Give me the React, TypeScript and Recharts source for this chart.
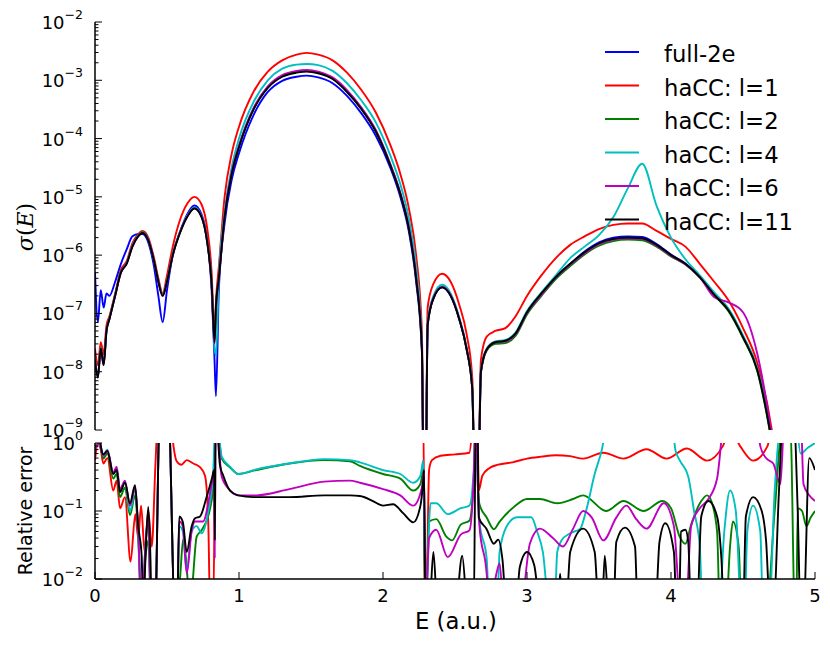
import React from 'react';
import { LineChart, Line, XAxis, YAxis } from 'recharts';

// ---- cross section panel: energy grid (a.u.) and sigma(E) per calculation ----
const ENERGY = [
  0, 0.02, 0.04, 0.06, 0.08, 0.1, 0.14, 0.18, 0.22, 0.26,
  0.3, 0.33, 0.37, 0.41, 0.44, 0.47, 0.5, 0.54, 0.59, 0.64,
  0.69, 0.74, 0.78, 0.81, 0.83, 0.84, 0.86, 0.9, 0.95, 1.0,
  1.1, 1.2, 1.3, 1.4, 1.47, 1.55, 1.65, 1.75, 1.85, 1.95,
  2.05, 2.12, 2.18, 2.23, 2.27, 2.29, 2.31, 2.35, 2.41, 2.47,
  2.53, 2.58, 2.62, 2.65, 2.68, 2.72, 2.78, 2.85, 2.92, 3.0,
  3.1, 3.2, 3.3, 3.4, 3.5, 3.6, 3.7, 3.8, 3.9, 4.0,
  4.1, 4.2, 4.3, 4.4, 4.5, 4.6, 4.7, 4.75,
];

const SIGMA_FULL_2E = [
  5.0e-7, 7.1e-8, 2.5e-7, 1.26e-7, 2.2e-7, 2.0e-7, 3.5e-7, 7.1e-7, 1.26e-6, 2.1e-6,
  2.3e-6, 2.3e-6, 1.66e-6, 6.3e-7, 2.0e-7, 7.1e-8, 2.5e-7, 1.0e-6, 2.5e-6, 5.0e-6,
  7.1e-6, 5.0e-6, 1.8e-6, 2.5e-7, 1.6e-8, 3.8e-9, 2.5e-7, 3.5e-6, 2.0e-5, 5.6e-5,
  2.5e-4, 6.3e-4, 9.8e-4, 1.15e-3, 1.2e-3, 1.12e-3, 8.9e-4, 5.4e-4, 2.7e-4, 1.12e-4,
  3.2e-5, 1.0e-5, 2.5e-6, 3.5e-7, 2.2e-8, 1e-12, 6.3e-8, 1.8e-7, 2.8e-7, 2.0e-7,
  7.9e-8, 2.5e-8, 5.0e-9, 1e-12, 1.0e-8, 2.4e-8, 3.2e-8, 3.4e-8, 4.5e-8, 1.05e-7,
  2.2e-7, 4.2e-7, 7.1e-7, 1.15e-6, 1.65e-6, 2.0e-6, 2.1e-6, 2.05e-6, 1.55e-6, 1.02e-6,
  7.2e-7, 4.3e-7, 2.1e-7, 1.15e-7, 4.0e-8, 1.1e-8, 6.5e-10, 1e-10,
];

const SIGMA_L1 = [
  2.5e-8, 1.3e-8, 3.2e-8, 2.0e-8, 6.3e-8, 8.9e-8, 2.2e-7, 5.6e-7, 7.9e-7, 1.6e-6,
  2.3e-6, 2.6e-6, 2.0e-6, 8.9e-7, 4.0e-7, 2.2e-7, 4.5e-7, 1.4e-6, 4.0e-6, 7.6e-6,
  1.0e-5, 7.4e-6, 2.8e-6, 5.0e-7, 4.0e-8, 1.6e-7, 6.3e-7, 1.0e-5, 5.6e-5, 1.6e-4,
  6.3e-4, 1.41e-3, 2.2e-3, 2.75e-3, 2.95e-3, 2.75e-3, 2.2e-3, 1.35e-3, 6.8e-4, 2.8e-4,
  7.9e-5, 2.5e-5, 6.3e-6, 1.0e-6, 5.0e-8, 1e-12, 1.26e-7, 3.2e-7, 4.8e-7, 3.5e-7,
  1.4e-7, 4.5e-8, 7.9e-9, 1e-12, 1.6e-8, 4.0e-8, 5.0e-8, 5.6e-8, 8.9e-8, 2.0e-7,
  4.5e-7, 8.9e-7, 1.5e-6, 2.1e-6, 2.8e-6, 3.3e-6, 3.5e-6, 3.5e-6, 2.6e-6, 1.9e-6,
  1.4e-6, 7.1e-7, 3.5e-7, 1.66e-7, 5.6e-8, 1.4e-8, 1.0e-9, 1e-10,
];

const SIGMA_L2 = [
  1.8e-8, 8.5e-9, 2.6e-8, 1.4e-8, 5.2e-8, 8.2e-8, 2.1e-7, 5.2e-7, 7.4e-7, 1.45e-6,
  2.2e-6, 2.5e-6, 1.85e-6, 8.1e-7, 3.6e-7, 2.1e-7, 3.6e-7, 1.02e-6, 2.45e-6, 4.6e-6,
  6.4e-6, 4.6e-6, 1.65e-6, 3.3e-7, 3.4e-8, 1.35e-7, 4.1e-7, 4.6e-6, 2.6e-5, 7.3e-5,
  3.2e-4, 7.6e-4, 1.18e-3, 1.38e-3, 1.44e-3, 1.35e-3, 1.07e-3, 6.5e-4, 3.3e-4, 1.35e-4,
  3.6e-5, 1.15e-5, 2.9e-6, 4.1e-7, 2.6e-8, 1e-12, 6.4e-8, 1.85e-7, 2.85e-7, 2.05e-7,
  8.0e-8, 2.5e-8, 5.0e-9, 1e-12, 9.5e-9, 2.3e-8, 3.0e-8, 3.1e-8, 4.1e-8, 9.6e-8,
  2.0e-7, 3.9e-7, 6.5e-7, 1.03e-6, 1.45e-6, 1.75e-6, 1.85e-6, 1.8e-6, 1.4e-6, 9.5e-7,
  6.9e-7, 4.1e-7, 2.05e-7, 1.08e-7, 3.8e-8, 1.0e-8, 6.0e-10, 1e-10,
];

const SIGMA_L4 = [
  1.7e-8, 8.2e-9, 2.6e-8, 1.35e-8, 5.1e-8, 8.1e-8, 2.05e-7, 5.1e-7, 7.3e-7, 1.45e-6,
  2.15e-6, 2.45e-6, 1.85e-6, 8.0e-7, 3.6e-7, 2.05e-7, 3.6e-7, 1.05e-6, 2.5e-6, 4.7e-6,
  6.6e-6, 4.7e-6, 1.7e-6, 3.2e-7, 2.5e-8, 1.9e-8, 4.2e-7, 5.5e-6, 3.3e-5, 1.0e-4,
  4.2e-4, 1.0e-3, 1.58e-3, 1.86e-3, 1.9e-3, 1.82e-3, 1.45e-3, 8.9e-4, 4.5e-4, 1.9e-4,
  5.2e-5, 1.66e-5, 4.2e-6, 6.3e-7, 3.2e-8, 1e-12, 7.0e-8, 2.0e-7, 3.1e-7, 2.2e-7,
  8.5e-8, 2.7e-8, 5.5e-9, 1e-12, 1.05e-8, 2.5e-8, 3.3e-8, 3.5e-8, 4.7e-8, 1.1e-7,
  2.3e-7, 4.5e-7, 8.9e-7, 1.4e-6, 2.2e-6, 4.5e-6, 1.4e-5, 3.7e-5, 7.0e-6, 2.0e-6,
  8.5e-7, 4.5e-7, 2.3e-7, 1.2e-7, 4.2e-8, 1.1e-8, 7.0e-10, 1e-10,
];

const SIGMA_L6 = [
  1.65e-8, 8.0e-9, 2.5e-8, 1.3e-8, 5.0e-8, 8.0e-8, 2.0e-7, 5.1e-7, 7.2e-7, 1.42e-6,
  2.12e-6, 2.42e-6, 1.82e-6, 8.0e-7, 3.5e-7, 2.0e-7, 3.5e-7, 1.0e-6, 2.45e-6, 4.6e-6,
  6.4e-6, 4.6e-6, 1.65e-6, 3.2e-7, 3.0e-8, 1.2e-7, 4.0e-7, 4.7e-6, 2.7e-5, 7.6e-5,
  3.3e-4, 7.9e-4, 1.23e-3, 1.45e-3, 1.5e-3, 1.41e-3, 1.12e-3, 6.8e-4, 3.4e-4, 1.4e-4,
  3.7e-5, 1.18e-5, 2.95e-6, 4.2e-7, 2.6e-8, 1e-12, 6.4e-8, 1.85e-7, 2.85e-7, 2.05e-7,
  8.0e-8, 2.5e-8, 5.1e-9, 1e-12, 1.0e-8, 2.4e-8, 3.2e-8, 3.3e-8, 4.4e-8, 1.02e-7,
  2.1e-7, 4.1e-7, 6.9e-7, 1.08e-6, 1.55e-6, 1.85e-6, 1.95e-6, 1.9e-6, 1.45e-6, 9.8e-7,
  7.0e-7, 4.2e-7, 1.9e-7, 1.55e-7, 1.05e-7, 2.0e-8, 8.0e-10, 1e-10,
];

const SIGMA_L11 = [
  1.6e-8, 7.9e-9, 2.5e-8, 1.3e-8, 5.0e-8, 7.9e-8, 2.0e-7, 5.0e-7, 7.1e-7, 1.4e-6,
  2.1e-6, 2.4e-6, 1.8e-6, 7.9e-7, 3.5e-7, 2.0e-7, 3.5e-7, 1.0e-6, 2.4e-6, 4.5e-6,
  6.3e-6, 4.5e-6, 1.6e-6, 3.2e-7, 3.2e-8, 1.3e-7, 4.0e-7, 4.5e-6, 2.5e-5, 7.1e-5,
  3.1e-4, 7.4e-4, 1.15e-3, 1.35e-3, 1.41e-3, 1.32e-3, 1.05e-3, 6.3e-4, 3.2e-4, 1.32e-4,
  3.5e-5, 1.12e-5, 2.8e-6, 4.0e-7, 2.5e-8, 1e-12, 6.3e-8, 1.8e-7, 2.8e-7, 2.0e-7,
  7.9e-8, 2.5e-8, 5.0e-9, 1e-12, 1.0e-8, 2.4e-8, 3.2e-8, 3.4e-8, 4.5e-8, 1.05e-7,
  2.2e-7, 4.2e-7, 7.1e-7, 1.12e-6, 1.6e-6, 1.9e-6, 2.0e-6, 1.95e-6, 1.5e-6, 1.0e-6,
  7.1e-7, 4.2e-7, 2.1e-7, 1.12e-7, 3.9e-8, 1.05e-8, 6.3e-10, 1e-10,
];

// ---- relative error panel: each series has its own energy samples ----
const ERR_L1_E = [
  0, 0.02, 0.04, 0.058, 0.086, 0.127, 0.15, 0.174, 0.208, 0.247,
  0.28, 0.3, 0.32, 0.345, 0.37, 0.394, 0.42, 0.44, 0.52, 0.545,
  0.567, 0.6, 0.637, 0.683, 0.729, 0.764, 0.787, 0.8, 0.82, 0.84,
  2.28, 2.29, 2.3, 2.32, 2.34, 2.4, 2.5, 2.6, 2.635, 2.655,
  2.665, 2.69, 2.74, 2.8, 2.9, 3.0, 3.1, 3.2, 3.3, 3.39,
  3.53, 3.67, 3.83, 3.97, 4.11, 4.25, 4.36, 4.39, 4.44, 4.48,
  4.57, 4.67, 4.72, 5.0,
];
const ERR_L1 = [
  0.56, 1.0, 0.8, 0.5, 0.6, 0.2, 0.28, 0.11, 0.16, 0.018,
  0.09, 0.04, 0.12, 0.025, 0.1, 0.03, 0.5, 3, 3, 0.9,
  0.54, 0.48, 0.56, 0.5, 0.44, 0.33, 0.063, 0.003, 0.003, 3,
  3, 0.003, 0.003, 0.4, 0.56, 0.65, 0.68, 0.72, 3, 3,
  0.2, 0.33, 0.43, 0.48, 0.52, 0.59, 0.63, 0.66, 0.64, 0.59,
  0.72, 0.59, 0.81, 0.59, 0.83, 0.55, 0.9, 1.2, 1.2, 0.9,
  0.55, 0.9, 3, 3,
];

const ERR_L2_E = [
  0, 0.03, 0.058, 0.086, 0.127, 0.15, 0.174, 0.208, 0.243, 0.278,
  0.3, 0.324, 0.35, 0.37, 0.39, 0.417, 0.45, 0.51, 0.555, 0.59,
  0.613, 0.64, 0.66, 0.68, 0.706, 0.74, 0.8, 0.826, 0.84, 0.88,
  0.937, 0.995, 1.12, 1.35, 1.59, 1.77, 1.84, 2.0, 2.12, 2.21,
  2.26, 2.28, 2.295, 2.32, 2.37, 2.44, 2.48, 2.54, 2.6, 2.63,
  2.645, 2.66, 2.67, 2.72, 2.77, 2.81, 2.91, 3.0, 3.09, 3.21,
  3.32, 3.39, 3.55, 3.67, 3.81, 3.94, 4.0, 4.06, 4.1, 4.14,
  4.21, 4.25, 4.28, 4.32, 4.34, 4.38, 4.41, 4.43, 4.47, 4.49,
  4.66, 4.72, 4.77, 4.83, 4.86, 4.87, 4.88, 4.91, 4.94, 4.97,
  5.0,
];
const ERR_L2 = [
  0.89, 1.0, 0.59, 0.7, 0.3, 0.35, 0.16, 0.22, 0.087, 0.17,
  0.04, 0.003, 0.02, 0.037, 0.003, 0.003, 3, 3, 0.003, 0.01,
  0.039, 0.012, 0.003, 0.01, 0.042, 0.052, 0.11, 0.3, 3, 0.59,
  0.44, 0.35, 0.4, 0.5, 0.56, 0.54, 0.46, 0.35, 0.3, 0.2,
  0.25, 0.4, 0.003, 0.07, 0.076, 0.042, 0.037, 0.063, 0.072, 0.3,
  3, 0.2, 0.126, 0.08, 0.054, 0.07, 0.115, 0.15, 0.15, 0.13,
  0.15, 0.17, 0.1, 0.14, 0.1, 0.14, 0.11, 0.042, 0.033, 0.063,
  0.14, 0.17, 0.14, 0.05, 0.003, 0.003, 0.03, 0.07, 0.03, 0.003,
  0.003, 0.1, 1.5, 1.5, 0.003, 0.003, 0.11, 0.1, 0.06, 0.08,
  0.1,
];

const ERR_L4_E = [
  0, 0.03, 0.058, 0.086, 0.127, 0.15, 0.174, 0.208, 0.243, 0.278,
  0.3, 0.324, 0.35, 0.37, 0.39, 0.417, 0.45, 0.51, 0.555, 0.57,
  0.585, 0.61, 0.637, 0.67, 0.706, 0.74, 0.787, 0.82, 0.84, 0.88,
  0.937, 0.995, 1.12, 1.35, 1.59, 1.77, 1.84, 2.0, 2.12, 2.21,
  2.26, 2.28, 2.295, 2.33, 2.37, 2.45, 2.54, 2.6, 2.63, 2.645,
  2.66, 2.67, 2.72, 2.74, 2.79, 2.81, 2.86, 2.93, 3.03, 3.07,
  3.11, 3.16, 3.19, 3.21, 3.24, 3.3, 3.37, 3.41, 3.47, 3.52,
  3.57, 4.0, 4.03, 4.06, 4.12, 4.16, 4.2, 4.22, 4.33, 4.37,
  4.41, 4.45, 4.49, 4.51, 4.53, 4.57, 4.62, 4.64, 4.68, 4.72,
  4.78, 4.86, 4.9, 4.95, 5.0,
];
const ERR_L4 = [
  0.79, 1.0, 0.68, 0.8, 0.35, 0.42, 0.2, 0.27, 0.1, 0.2,
  0.05, 0.003, 0.03, 0.08, 0.003, 0.003, 3, 3, 0.003, 0.003,
  0.06, 0.05, 0.013, 0.05, 0.06, 0.047, 0.1, 0.35, 3, 0.63,
  0.45, 0.35, 0.41, 0.5, 0.58, 0.56, 0.52, 0.4, 0.35, 0.26,
  0.33, 0.56, 0.003, 0.13, 0.13, 0.09, 0.11, 0.12, 0.4, 3,
  0.2, 0.07, 0.02, 0.003, 0.003, 0.025, 0.06, 0.081, 0.081, 0.05,
  0.025, 0.003, 0.003, 0.025, 0.037, 0.047, 0.055, 0.1, 0.35, 0.8,
  3, 3, 0.8, 0.56, 0.32, 0.1, 0.03, 0.003, 0.003, 0.05,
  0.2, 0.1, 0.003, 0.003, 0.05, 0.12, 0.05, 0.003, 0.003, 0.2,
  3, 3, 0.7, 0.85, 1.0,
];

const ERR_L6_E = [
  0, 0.03, 0.058, 0.086, 0.127, 0.15, 0.174, 0.208, 0.243, 0.278,
  0.3, 0.324, 0.35, 0.37, 0.39, 0.417, 0.45, 0.51, 0.555, 0.57,
  0.585, 0.61, 0.637, 0.671, 0.695, 0.75, 0.81, 0.828, 0.832, 0.838,
  0.88, 0.94, 0.995, 1.12, 1.35, 1.59, 1.77, 1.84, 2.0, 2.12,
  2.21, 2.27, 2.285, 2.295, 2.32, 2.37, 2.45, 2.54, 2.6, 2.63,
  2.645, 2.66, 2.67, 2.72, 2.74, 2.78, 2.81, 2.84, 2.95, 3.02,
  3.09, 3.18, 3.25, 3.32, 3.39, 3.45, 3.53, 3.62, 3.69, 3.76,
  3.83, 3.95, 4.02, 4.07, 4.1, 4.14, 4.2, 4.26, 4.32, 4.38,
  4.59, 4.62, 4.66, 4.71, 4.76, 4.79, 4.9, 4.92, 4.96, 5.0,
];
const ERR_L6 = [
  0.79, 1.0, 0.65, 0.78, 0.37, 0.45, 0.21, 0.28, 0.12, 0.22,
  0.05, 0.003, 0.03, 0.08, 0.003, 0.003, 3, 3, 0.003, 0.003,
  0.07, 0.06, 0.012, 0.05, 0.07, 0.07, 0.25, 0.4, 0.02, 3,
  0.32, 0.2, 0.17, 0.17, 0.21, 0.27, 0.28, 0.26, 0.21, 0.17,
  0.12, 0.22, 0.4, 0.003, 0.04, 0.053, 0.021, 0.045, 0.052, 0.3,
  3, 0.2, 0.06, 0.012, 0.003, 0.01, 0.017, 0.003, 0.003, 0.033,
  0.055, 0.04, 0.03, 0.055, 0.1, 0.08, 0.037, 0.08, 0.12, 0.075,
  0.055, 0.13, 0.06, 0.003, 0.003, 0.06, 0.11, 0.15, 0.3, 3,
  3, 0.9, 0.6, 0.5, 0.25, 3, 3, 0.25, 0.17, 0.14,
];

const ERR_L11_E = [
  0, 0.02, 0.04, 0.058, 0.086, 0.127, 0.15, 0.174, 0.208, 0.243,
  0.278, 0.3, 0.324, 0.336, 0.35, 0.37, 0.385, 0.394, 0.417, 0.45,
  0.51, 0.555, 0.57, 0.585, 0.61, 0.637, 0.671, 0.695, 0.729, 0.775,
  0.81, 0.828, 0.832, 0.838, 0.868, 0.891, 0.937, 0.995, 1.1, 1.35,
  1.59, 1.77, 1.84, 1.93, 2.0, 2.07, 2.14, 2.21, 2.26, 2.28,
  2.285, 2.295, 2.32, 2.35, 2.38, 2.5, 2.55, 2.59, 2.63, 2.645,
  2.655, 2.665, 2.72, 2.77, 2.8, 2.83, 2.86, 2.92, 2.95, 3.0,
  3.05, 3.1, 3.21, 3.23, 3.25, 3.27, 3.3, 3.39, 3.47, 3.5,
  3.52, 3.54, 3.57, 3.6, 3.62, 3.68, 3.75, 3.77, 3.89, 3.92,
  3.96, 4.02, 4.04, 4.055, 4.07, 4.1, 4.12, 4.14, 4.18, 4.21,
  4.26, 4.32, 4.35, 4.37, 4.5, 4.52, 4.57, 4.63, 4.66, 4.69,
  4.71, 4.75, 4.78, 4.85, 4.88, 4.9, 4.92, 4.96, 5.0,
];
const ERR_L11 = [
  1.0, 3, 0.93, 0.68, 0.76, 0.35, 0.4, 0.19, 0.26, 0.13,
  0.24, 0.06, 0.022, 0.003, 0.02, 0.115, 0.02, 0.003, 0.003, 3,
  3, 0.003, 0.003, 0.083, 0.069, 0.025, 0.059, 0.078, 0.083, 0.16,
  0.29, 0.4, 0.037, 3, 0.47, 0.33, 0.2, 0.17, 0.16, 0.16,
  0.17, 0.17, 0.166, 0.14, 0.12, 0.126, 0.093, 0.068, 0.12, 0.29,
  0.4, 0.003, 0.003, 0.025, 0.003, 0.003, 0.022, 0.003, 0.003, 3,
  3, 0.08, 0.054, 0.033, 0.038, 0.019, 0.003, 0.003, 0.015, 0.025,
  0.016, 0.003, 0.003, 0.012, 0.003, 0.003, 0.025, 0.055, 0.025, 0.003,
  0.003, 0.022, 0.003, 0.003, 0.035, 0.057, 0.03, 0.003, 0.003, 0.035,
  0.066, 0.025, 0.003, 0.003, 0.05, 0.053, 0.035, 0.003, 0.003, 0.083,
  0.14, 0.083, 0.02, 0.003, 0.003, 0.083, 0.16, 0.1, 0.037, 0.003,
  0.003, 0.2, 3, 3, 0.1, 0.003, 0.003, 0.6, 0.4,
];

// ---- axes ----
const X_TICKS = [0, 1, 2, 3, 4, 5];
const SIGMA_DECADES = [-9, -8, -7, -6, -5, -4, -3, -2];
const ERR_DECADES = [-2, -1, 0];

const SERIES = [
  { key: 'full2e', name: 'full-2e', color: '#0000ff', sigma: SIGMA_FULL_2E, errE: null, err: null },
  { key: 'l1', name: 'haCC: l=1', color: '#ff0000', sigma: SIGMA_L1, errE: ERR_L1_E, err: ERR_L1 },
  { key: 'l2', name: 'haCC: l=2', color: '#008000', sigma: SIGMA_L2, errE: ERR_L2_E, err: ERR_L2 },
  { key: 'l4', name: 'haCC: l=4', color: '#00bfbf', sigma: SIGMA_L4, errE: ERR_L4_E, err: ERR_L4 },
  { key: 'l6', name: 'haCC: l=6', color: '#bf00bf', sigma: SIGMA_L6, errE: ERR_L6_E, err: ERR_L6 },
  { key: 'l11', name: 'haCC: l=11', color: '#000000', sigma: SIGMA_L11, errE: ERR_L11_E, err: ERR_L11 },
];

const FONT = '"DejaVu Sans", sans-serif';
const AXIS_LINE = { stroke: '#000', strokeWidth: 1.5 };
const LINE_WIDTH = 1.9;

function logTicks(decades: number[]) {
  const out: number[] = [];
  decades.forEach((d, i) => {
    out.push(Math.pow(10, d));
    if (i < decades.length - 1) {
      for (let m = 2; m <= 9; m++) out.push(m * Math.pow(10, d));
    }
  });
  return out;
}

const SIGMA_TICKS = logTicks(SIGMA_DECADES);
const ERR_TICKS = logTicks(ERR_DECADES);

const topRows = ENERGY.map((e, i) => {
  const row: Record<string, number> = { e };
  SERIES.forEach((s) => {
    row[s.key] = s.sigma[i];
  });
  return row;
});

function isMajor(v: number) {
  const l = Math.log10(v);
  return Math.abs(l - Math.round(l)) < 1e-6;
}

function expLabel(v: number) {
  const p = Math.round(Math.log10(v));
  return p < 0 ? '\u2212' + -p : String(p);
}

// ticks point into the plot, as in the classic matplotlib look
const LeftLogTick = (props: any) => {
  const { x, y, payload } = props;
  const major = isMajor(payload.value);
  return (
    <g>
      <line x1={x} x2={x + (major ? 7 : 3.5)} y1={y} y2={y} stroke="#000" strokeWidth={1} />
      {major && (
        <text x={x - 12} y={y + 7} textAnchor="end" fontFamily={FONT} fontSize={18} fill="#000">
          10
          <tspan dy={-10} fontSize={12.5}>
            {expLabel(payload.value)}
          </tspan>
        </text>
      )}
    </g>
  );
};

const RightLogTick = (props: any) => {
  const { x, y, payload } = props;
  const major = isMajor(payload.value);
  return <line x1={x} x2={x - (major ? 7 : 3.5)} y1={y} y2={y} stroke="#000" strokeWidth={1} />;
};

const TopTick = (props: any) => {
  const { x, y } = props;
  return <line x1={x} x2={x} y1={y} y2={y + 7} stroke="#000" strokeWidth={1} />;
};

const BottomTickNoLabel = (props: any) => {
  const { x, y } = props;
  return <line x1={x} x2={x} y1={y} y2={y - 7} stroke="#000" strokeWidth={1} />;
};

const BottomTick = (props: any) => {
  const { x, y, payload } = props;
  return (
    <g>
      <line x1={x} x2={x} y1={y} y2={y - 7} stroke="#000" strokeWidth={1} />
      <text x={x} y={y + 23} textAnchor="middle" fontFamily={FONT} fontSize={18} fill="#000">
        {payload.value}
      </text>
    </g>
  );
};

export default function App() {
  const legendRows = [52, 85.5, 119, 152.5, 186, 219.5];
  return (
    <div style={{ position: 'absolute', left: 0, top: 0, width: 830, height: 647, background: '#fff' }}>
      <div style={{ position: 'absolute', left: 0, top: 0 }}>
        <LineChart width={830} height={440} data={topRows} margin={{ top: 22, right: 15, bottom: 10, left: 0 }}>
          <XAxis
            dataKey="e"
            type="number"
            domain={[0, 5]}
            ticks={X_TICKS}
            interval={0}
            height={0}
            tickSize={0}
            tickMargin={0}
            tickLine={false}
            axisLine={AXIS_LINE}
            tick={BottomTickNoLabel}
            allowDataOverflow
          />
          <XAxis
            xAxisId="top"
            orientation="top"
            type="number"
            domain={[0, 5]}
            ticks={X_TICKS}
            interval={0}
            height={0}
            tickSize={0}
            tickMargin={0}
            tickLine={false}
            axisLine={AXIS_LINE}
            tick={TopTick}
          />
          <YAxis
            type="number"
            scale="log"
            domain={[1e-9, 1e-2]}
            ticks={SIGMA_TICKS}
            interval={0}
            width={95}
            tickSize={0}
            tickMargin={0}
            tickLine={false}
            axisLine={AXIS_LINE}
            tick={LeftLogTick}
            allowDataOverflow
          />
          <YAxis
            yAxisId="right"
            orientation="right"
            type="number"
            scale="log"
            domain={[1e-9, 1e-2]}
            ticks={SIGMA_TICKS}
            interval={0}
            width={0}
            tickSize={0}
            tickMargin={0}
            tickLine={false}
            axisLine={AXIS_LINE}
            tick={RightLogTick}
            allowDataOverflow
          />
          {SERIES.map((s) => (
            <Line
              key={s.key}
              dataKey={s.key}
              name={s.name}
              type="monotone"
              stroke={s.color}
              strokeWidth={LINE_WIDTH}
              dot={false}
              activeDot={false}
              isAnimationActive={false}
            />
          ))}
        </LineChart>
      </div>

      <div style={{ position: 'absolute', left: 0, top: 420 }}>
        <LineChart width={830} height={227} margin={{ top: 23, right: 15, bottom: 0, left: 0 }}>
          <XAxis
            dataKey="e"
            type="number"
            domain={[0, 5]}
            ticks={X_TICKS}
            interval={0}
            height={68}
            tickSize={0}
            tickMargin={0}
            tickLine={false}
            axisLine={AXIS_LINE}
            tick={BottomTick}
            allowDataOverflow
          />
          <XAxis
            xAxisId="top"
            orientation="top"
            type="number"
            domain={[0, 5]}
            ticks={X_TICKS}
            interval={0}
            height={0}
            tickSize={0}
            tickMargin={0}
            tickLine={false}
            axisLine={AXIS_LINE}
            tick={TopTick}
          />
          <YAxis
            type="number"
            scale="log"
            domain={[1e-2, 1]}
            ticks={ERR_TICKS}
            interval={0}
            width={95}
            tickSize={0}
            tickMargin={0}
            tickLine={false}
            axisLine={AXIS_LINE}
            tick={LeftLogTick}
            allowDataOverflow
          />
          <YAxis
            yAxisId="right"
            orientation="right"
            type="number"
            scale="log"
            domain={[1e-2, 1]}
            ticks={ERR_TICKS}
            interval={0}
            width={0}
            tickSize={0}
            tickMargin={0}
            tickLine={false}
            axisLine={AXIS_LINE}
            tick={RightLogTick}
            allowDataOverflow
          />
          {SERIES.filter((s) => s.err).map((s) => (
            <Line
              key={s.key}
              data={(s.errE as number[]).map((e, i) => ({ e, v: (s.err as number[])[i] }))}
              dataKey="v"
              name={s.name}
              type="monotone"
              stroke={s.color}
              strokeWidth={LINE_WIDTH}
              dot={false}
              activeDot={false}
              isAnimationActive={false}
            />
          ))}
        </LineChart>
      </div>

      <svg
        width={830}
        height={647}
        style={{ position: 'absolute', left: 0, top: 0, pointerEvents: 'none' }}
      >
        {SERIES.map((s, i) => (
          <g key={s.key}>
            <line x1={605} x2={639} y1={legendRows[i]} y2={legendRows[i]} stroke={s.color} strokeWidth={LINE_WIDTH} />
            <text x={664} y={legendRows[i] + 10} fontFamily={FONT} fontSize={22.7} fill="#000">
              {s.name}
            </text>
          </g>
        ))}
        <text
          transform="translate(33,227) rotate(-90)"
          textAnchor="middle"
          fontFamily='"DejaVu Serif", serif'
          fontSize={22}
          fill="#000"
        >
          <tspan fontStyle="italic">σ</tspan>
          <tspan>(</tspan>
          <tspan fontStyle="italic">E</tspan>
          <tspan>)</tspan>
        </text>
        <text
          transform="translate(32,511) rotate(-90)"
          textAnchor="middle"
          fontFamily={FONT}
          fontSize={19}
          fill="#000"
        >
          Relative error
        </text>
        <text x={456} y={629} textAnchor="middle" fontFamily={FONT} fontSize={22.7} fill="#000">
          E (a.u.)
        </text>
      </svg>
    </div>
  );
}
